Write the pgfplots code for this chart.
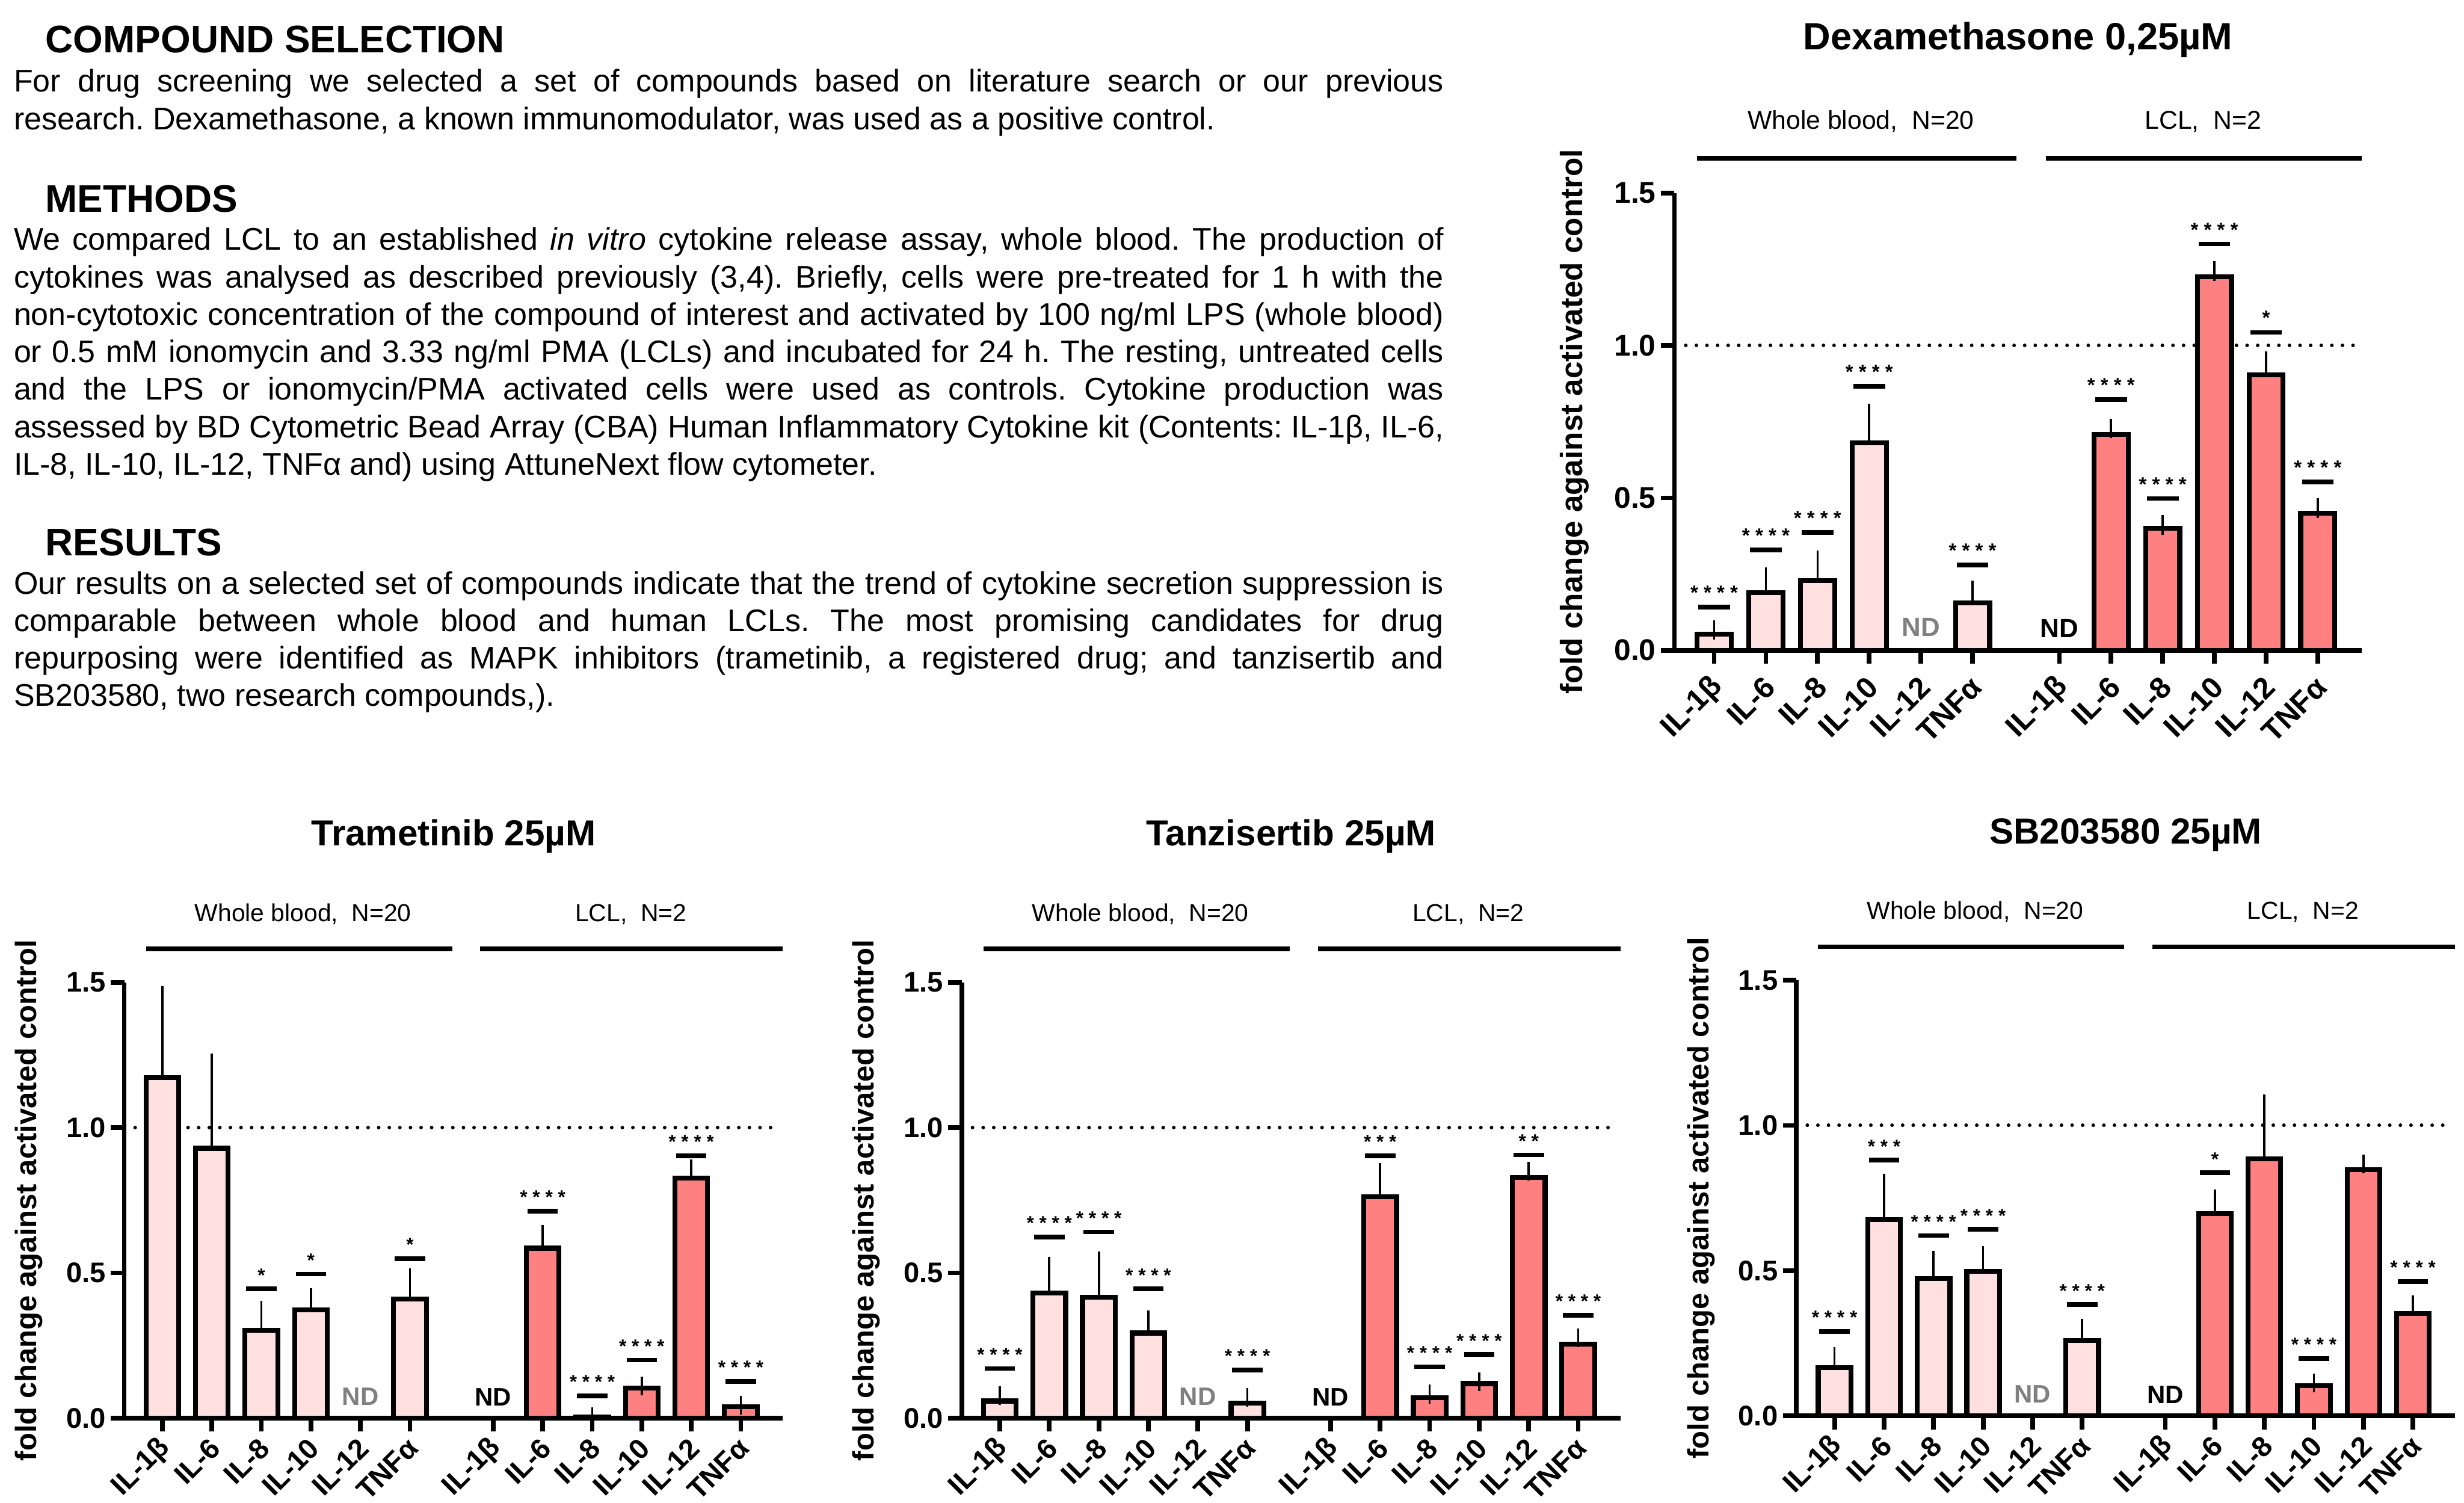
\documentclass[border=0pt]{standalone}
\usepackage{fontspec}
\setmainfont{Liberation Sans}
\usepackage{pgfplots}
\pgfplotsset{compat=1.18}
\usepackage{pgfplotstable}

\definecolor{wbfill}{RGB}{255,224,224}
\definecolor{lclfill}{RGB}{255,128,128}
\definecolor{ndgray}{RGB}{128,128,128}

\newcommand\stars[1]{\ifcase#1 \or *\or * *\or * * *\or * * * *\fi}

% ---------------- data ----------------
\pgfplotstableread{
x y e
0 0.0525 0.0145
1 0.189 0.050
2 0.228 0.067
3 0.680 0.097
5 0.156 0.040
}\dexWB
\pgfplotstableread{
x y e
7.68 0.709 0.019
8.68 0.400 0.011
9.68 1.226 0.018
10.68 0.904 0.045
11.68 0.449 0.018
}\dexLCL
\pgfplotstableread{
x y s
0 0.142 4
1 0.330 4
2 0.387 4
3 0.866 4
5 0.280 4
7.68 0.823 4
8.68 0.498 4
9.68 1.333 4
10.68 1.043 1
11.68 0.553 4
}\dexSig

\pgfplotstableread{
x y e
0 1.172 0.282
1 0.929 0.293
2 0.303 0.068
3 0.373 0.043
5 0.410 0.074
}\tramWB
\pgfplotstableread{
x y e
7.68 0.585 0.047
8.68 0.004 0
9.68 0.104 0.007
10.68 0.827 0.031
11.68 0.039 0.006
}\tramLCL
\pgfplotstableread{
x y s
2 0.445 1
3 0.496 1
5 0.549 1
7.68 0.713 4
8.68 0.077 4
9.68 0.200 4
10.68 0.903 4
11.68 0.127 4
}\tramSig

\pgfplotstableread{
x y e
0 0.059 0.018
1 0.430 0.093
2 0.416 0.125
3 0.293 0.045
5 0.052 0.019
}\tanzWB
\pgfplotstableread{
x y e
7.68 0.762 0.083
8.68 0.071 0.012
9.68 0.119 0.006
10.68 0.829 0.022
11.68 0.254 0.022
}\tanzLCL
\pgfplotstableread{
x y s
0 0.171 4
1 0.624 4
2 0.641 4
3 0.445 4
5 0.166 4
7.68 0.903 3
8.68 0.177 4
9.68 0.219 4
10.68 0.906 2
11.68 0.355 4
}\tanzSig

\pgfplotstableread{
x y e
0 0.167 0.038
1 0.676 0.124
2 0.473 0.063
3 0.497 0.055
5 0.259 0.043
}\sbWB
\pgfplotstableread{
x y e
7.68 0.697 0.051
8.68 0.885 0.189
9.68 0.104 0.009
10.68 0.848 0.020
11.68 0.353 0.030
}\sbLCL
\pgfplotstableread{
x y s
0 0.291 4
1 0.880 3
2 0.621 4
3 0.642 4
5 0.383 4
7.68 0.837 1
9.68 0.198 4
11.68 0.463 4
}\sbSig

% ---------------- styles ----------------
\tikzset{
  lower title/.style={font=\fontsize{16.2bp}{19bp}\selectfont\bfseries, anchor=base, inner sep=0pt},
  lower group/.style={font=\fontsize{11bp}{13bp}\selectfont, anchor=base, inner sep=0pt},
  lower ylab/.style={font=\fontsize{13.2bp}{15bp}\selectfont\bfseries, xshift=-42.6bp, rotate=90},
  lower nd/.style={font=\fontsize{11.3bp}{12bp}\selectfont\bfseries, inner sep=0pt},
  lower star/.style={font=\fontsize{8.5bp}{10bp}\selectfont\bfseries, inner sep=0pt, anchor=south, yshift=2.2bp},
  lower sig/.style={mark size=6.8bp},
  lower err/.style={mark size=4.2bp},
  dex title/.style={font=\fontsize{17bp}{20bp}\selectfont\bfseries, anchor=base, inner sep=0pt},
  dex group/.style={font=\fontsize{11.5bp}{13bp}\selectfont, anchor=base, inner sep=0pt},
  dex ylab/.style={font=\fontsize{13.8bp}{15bp}\selectfont\bfseries, xshift=-44.8bp, rotate=90},
  dex nd/.style={font=\fontsize{11.8bp}{12bp}\selectfont\bfseries, inner sep=0pt},
  dex star/.style={font=\fontsize{8.9bp}{10bp}\selectfont\bfseries, inner sep=0pt, anchor=south, yshift=2.3bp},
  dex sig/.style={mark size=7.1bp},
  dex err/.style={mark size=4.4bp},
}
\pgfplotsset{
  panel/.style={
    scale only axis, clip=false,
    xmin=-0.77, xmax=12.53, ymin=0, ymax=1.5,
    axis x line*=bottom, axis y line*=left,
    axis line style={line width=2.1bp, -},
    tick align=outside, major tick length=6bp,
    tick style={line width=2.1bp, black},
    xtick={0,1,2,3,4,5,6.68,7.68,8.68,9.68,10.68,11.68},
    xticklabels={IL-1β,IL-6,IL-8,IL-10,IL-12,TNFα,IL-1β,IL-6,IL-8,IL-10,IL-12,TNFα},
    ytick={0,0.5,1,1.5}, yticklabels={0.0,0.5,1.0,1.5},
    minor tick num=0,
    yticklabel style={anchor=east, xshift=1.2bp},
  },
  lower/.style={panel, width=294.8bp, height=195bp,
    tick label style={font=\fontsize{12.7bp}{15bp}\selectfont\bfseries},
    xticklabel style={anchor=east, inner sep=1bp, xshift=2.2bp, yshift=-4.5bp, rotate=45}},
  dex/.style={panel, width=307.6bp, height=204.6bp,
    tick label style={font=\fontsize{13.4bp}{15bp}\selectfont\bfseries},
    xticklabel style={anchor=east, inner sep=1bp, xshift=2.5bp, yshift=-7.5bp, rotate=45}},
}

\newcommand\drawpanel[6]{%
\begin{axis}[#1, at={#2}, anchor=south west]
  \addplot[line width=1.6bp, line cap=round, dash pattern=on 0.01bp off 4.73bp]
    coordinates {(-0.55,1) (12.43,1)};
  \addplot[line width=2.1bp] coordinates {(-0.33,1.615) (5.85,1.615)};
  \addplot[line width=2.1bp] coordinates {(6.42,1.615) (12.53,1.615)};
  \addplot[ybar, bar width=0.66, bar shift=0pt, fill=wbfill, draw=black, line width=2.2bp,
    error bars/.cd, y dir=plus, y explicit,
    error bar style={line width=1bp, black},
    error mark options={line width=1bp, black, #1 err}]
    table[x=x, y=y, y error plus=e] {#4};
  \addplot[ybar, bar width=0.66, bar shift=0pt, fill=lclfill, draw=black, line width=2.2bp,
    error bars/.cd, y dir=plus, y explicit,
    error bar style={line width=1bp, black},
    error mark options={line width=1bp, black, #1 err}]
    table[x=x, y=y, y error plus=e] {#5};
  \addplot[only marks, mark=-, mark options={line width=2.1bp, black, #1 sig},
    point meta=explicit symbolic,
    nodes near coords={\stars{\pgfplotspointmeta}},
    every node near coord/.append style={#1 star}]
    table[x=x, y=y, meta=s] {#6};
  \node[#1 title] at (axis cs:5.88,1.97) {#3};
  \node[#1 group] at (axis cs:2.84,1.71) {Whole blood,\ \ N=20};
  \node[#1 group] at (axis cs:9.46,1.71) {LCL,\ \ N=2};
  \node[#1 nd, text=ndgray] at (axis cs:4,0.075) {ND};
  \node[#1 nd] at (axis cs:6.68,0.072) {ND};
  \node[#1 ylab] at (rel axis cs:0,0.5) {fold change against activated control};
\end{axis}}

\newcommand\hfont{\fontsize{17.2bp}{20bp}\selectfont\bfseries}
\newcommand\bfont{\fontsize{14bp}{16.8bp}\selectfont\frenchspacing}
\newcommand\jline[2]{\node[anchor=base west, inner sep=0pt, font=\bfont] at (6bp,#1) {\makebox[640bp][s]{#2}};}
\newcommand\lline[2]{\node[anchor=base west, inner sep=0pt, font=\bfont] at (6bp,#1) {#2};}
\newcommand\head[2]{\node[anchor=base west, inner sep=0pt, font=\hfont] at (20.2bp,#1) {#2};}

\begin{document}
\frenchspacing
\begin{tikzpicture}
\useasboundingbox (0,0) rectangle (1102.8bp,672.4bp);

\head{648.8bp}{COMPOUND SELECTION}
\jline{631.2bp}{For drug screening we selected a set of compounds based on literature search or our previous}
\lline{614.4bp}{research. Dexamethasone, a known immunomodulator, was used as a positive control.}

\head{577.4bp}{METHODS}
\jline{560.4bp}{We compared LCL to an established \textit{in vitro} cytokine release assay, whole blood. The production of}
\jline{543.64bp}{cytokines was analysed as described previously (3,4). Briefly, cells were pre-treated for 1 h with the}
\jline{526.88bp}{non-cytotoxic concentration of the compound of interest and activated by 100 ng/ml LPS (whole blood)}
\jline{510.12bp}{or 0.5 mM ionomycin and 3.33 ng/ml PMA (LCLs) and incubated for 24 h. The resting, untreated cells}
\jline{493.36bp}{and the LPS or ionomycin/PMA activated cells were used as controls. Cytokine production was}
\jline{476.6bp}{assessed by BD Cytometric Bead Array (CBA) Human Inflammatory Cytokine kit (Contents: IL-1β, IL-6,}
\lline{459.84bp}{IL-8, IL-10, IL-12, TNFα and) using AttuneNext flow cytometer.}

\head{423.8bp}{RESULTS}
\jline{406.6bp}{Our results on a selected set of compounds indicate that the trend of cytokine secretion suppression is}
\jline{389.84bp}{comparable between whole blood and human LCLs. The most promising candidates for drug}
\jline{373.08bp}{repurposing were identified as MAPK inhibitors (trametinib, a registered drug; and tanzisertib and}
\lline{356.32bp}{SB203580, two research compounds,).}

\drawpanel{dex}{(749.4bp,381.4bp)}{Dexamethasone 0,25µM}{\dexWB}{\dexLCL}{\dexSig}
\drawpanel{lower}{(55.6bp,37.8bp)}{Trametinib 25µM}{\tramWB}{\tramLCL}{\tramSig}
\drawpanel{lower}{(430.4bp,37.8bp)}{Tanzisertib 25µM}{\tanzWB}{\tanzLCL}{\tanzSig}
\drawpanel{lower}{(804bp,38.8bp)}{SB203580 25µM}{\sbWB}{\sbLCL}{\sbSig}
\end{tikzpicture}
\end{document}
